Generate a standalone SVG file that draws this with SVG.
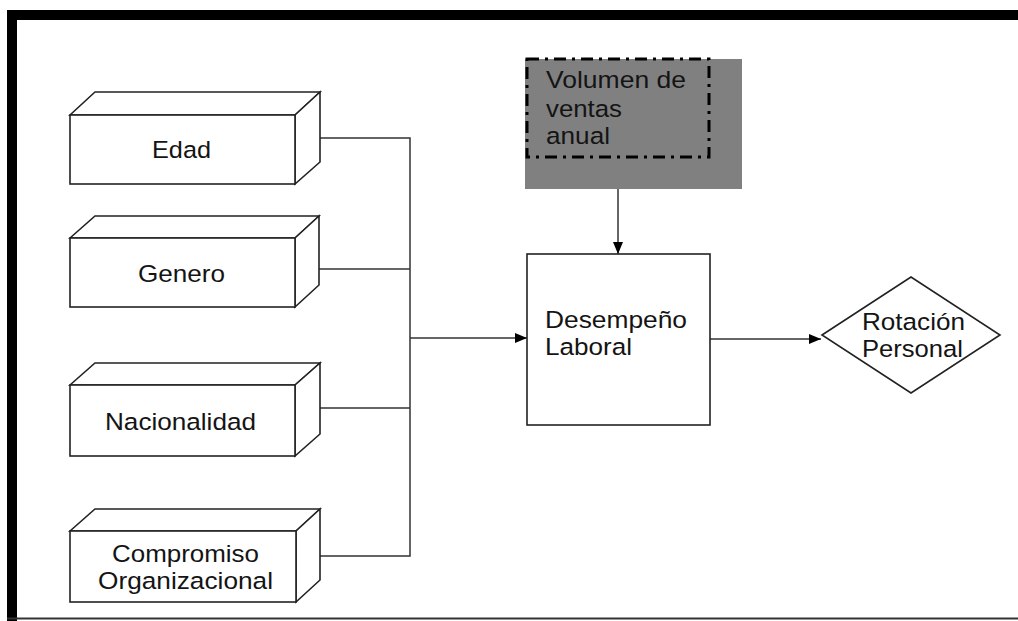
<svg xmlns="http://www.w3.org/2000/svg" width="1018" height="621" viewBox="0 0 1018 621">
  <defs>
    <style>
      .box { fill: #fff; stroke: #222; stroke-width: 1.6; stroke-linejoin: miter; }
      .wire { fill: none; stroke: #333; stroke-width: 1.5; }
      .lbl { font-family: "Liberation Sans", Arial, sans-serif; font-size: 24.5px; fill: #141414; }
    </style>
    <marker id="arrow" viewBox="0 0 12 10" refX="12" refY="5" markerWidth="12" markerHeight="10" markerUnits="userSpaceOnUse" orient="auto">
      <path d="M0,0 L12,5 L0,10 Z" fill="#000"/>
    </marker>
  </defs>

  <rect width="1018" height="621" fill="#fff"/>

  <!-- page frame -->
  <g id="frame">
    <rect x="7" y="10" width="1011" height="10" fill="#000"/>
    <rect x="7" y="10" width="10" height="611" fill="#000"/>
    <line x1="7" y1="618.5" x2="1018" y2="618.5" stroke="#333" stroke-width="2"/>
  </g>

  <!-- connectors -->
  <g id="connectors">
    <path class="wire" d="M320,138 H410 V556 H320"/>
    <path class="wire" d="M319,269 H410"/>
    <path class="wire" d="M320,408 H410"/>
    <path class="wire" d="M410,338 H527" marker-end="url(#arrow)"/>
    <path class="wire" d="M618,189 V254" marker-end="url(#arrow)"/>
    <path class="wire" d="M710,339 H821" marker-end="url(#arrow)"/>
  </g>

  <!-- factor blocks -->
  <g id="edad">
    <polygon class="box" points="70,115 95,92 320,92 295,115"/>
    <polygon class="box" points="295,115 320,92 320,162 295,184"/>
    <rect class="box" x="70" y="115" width="225" height="69"/>
    <text class="lbl" x="152" y="158" textLength="59" lengthAdjust="spacingAndGlyphs">Edad</text>
  </g>

  <g id="genero">
    <polygon class="box" points="70,238 95,216 319,216 295,238"/>
    <polygon class="box" points="295,238 319,216 319,285 295,307"/>
    <rect class="box" x="70" y="238" width="225" height="69"/>
    <text class="lbl" x="138" y="282" textLength="87" lengthAdjust="spacingAndGlyphs">Genero</text>
  </g>

  <g id="nacionalidad">
    <polygon class="box" points="70,385 95,363 320,363 295,385"/>
    <polygon class="box" points="295,385 320,363 320,434 295,456"/>
    <rect class="box" x="70" y="385" width="225" height="71"/>
    <text class="lbl" x="105" y="430" textLength="151" lengthAdjust="spacingAndGlyphs">Nacionalidad</text>
  </g>

  <g id="compromiso">
    <polygon class="box" points="70,531 95,509 320,509 296,531"/>
    <polygon class="box" points="296,531 320,509 320,580 296,602"/>
    <rect class="box" x="70" y="531" width="226" height="71"/>
    <text class="lbl" x="112" y="562" textLength="147" lengthAdjust="spacingAndGlyphs">Compromiso</text>
    <text class="lbl" x="98" y="589" textLength="175" lengthAdjust="spacingAndGlyphs">Organizacional</text>
  </g>

  <!-- annual sales volume -->
  <g id="volumen">
    <rect x="525" y="59" width="217" height="130" fill="#808080"/>
    <rect x="527" y="59" width="182" height="98" fill="none" stroke="#000" stroke-width="3" stroke-dasharray="12 6 3 6"/>
    <text class="lbl" x="546" y="88" textLength="140" lengthAdjust="spacingAndGlyphs">Volumen de</text>
    <text class="lbl" x="546" y="117" textLength="76" lengthAdjust="spacingAndGlyphs">ventas</text>
    <text class="lbl" x="546" y="144" textLength="64" lengthAdjust="spacingAndGlyphs">anual</text>
  </g>

  <!-- job performance -->
  <g id="desempeno">
    <rect class="box" x="527" y="254" width="183" height="171"/>
    <text class="lbl" x="545" y="328" textLength="142" lengthAdjust="spacingAndGlyphs">Desempeño</text>
    <text class="lbl" x="545" y="355" textLength="87" lengthAdjust="spacingAndGlyphs">Laboral</text>
  </g>

  <!-- staff turnover -->
  <g id="rotacion">
    <polygon class="box" points="822,335 911,277 1000,335 911,393"/>
    <text class="lbl" x="862" y="330" textLength="103" lengthAdjust="spacingAndGlyphs">Rotación</text>
    <text class="lbl" x="862" y="357" textLength="101" lengthAdjust="spacingAndGlyphs">Personal</text>
  </g>
</svg>
